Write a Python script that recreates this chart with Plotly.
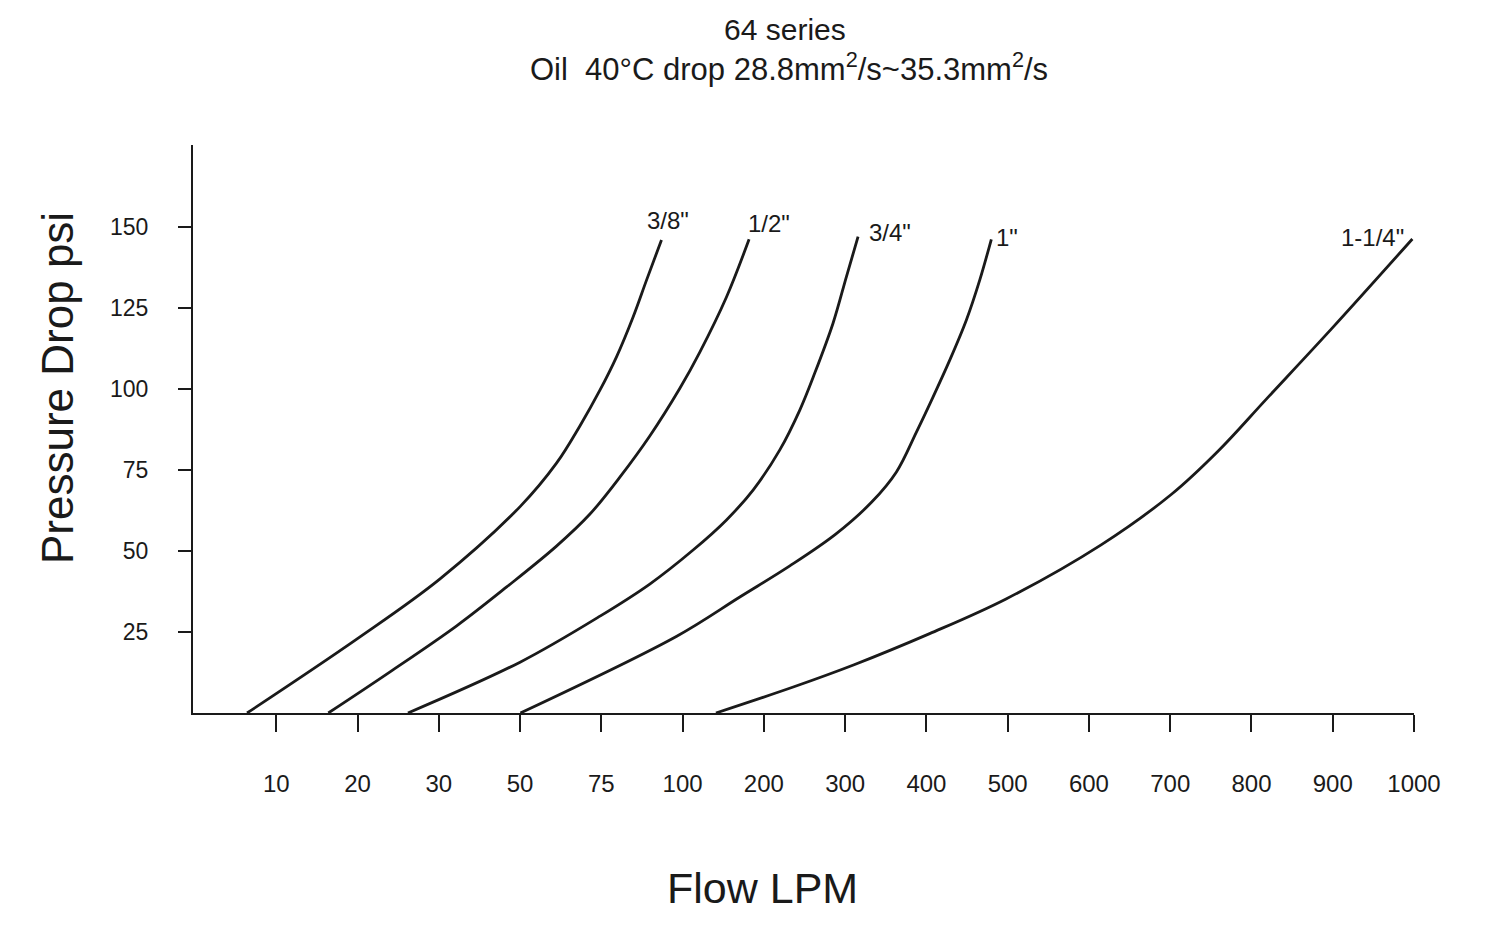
import numpy as np
import plotly.graph_objects as go

# flow axis ticks are evenly spaced on the chart, not linear in LPM
flow_ticks = [10, 20, 30, 50, 75, 100, 200, 300, 400, 500, 600, 700, 800, 900, 1000]
psi_ticks = [25, 50, 75, 100, 125, 150]

sizes = ['3/8"', '1/2"', '3/4"', '1"', '1-1/4"']

# values (flow LPM, pressure drop psi)
flow_38 = [6.4, 19.9, 30.3, 50.0, 61.2, 68.4, 74.6, 79.7, 84.8, 88.9, 93.5]
psi_38 = [0, 22.8, 41.4, 63.7, 77.1, 88.6, 99.7, 110.0, 122.3, 133.6, 146.0]

flow_12 = [16.4, 24.0, 34.4, 46.7, 61.2, 71.5, 80.7, 89.9, 99.2, 121.2, 154, 181.8]
psi_12 = [0, 12.7, 26.9, 38.9, 51.5, 61.4, 72.8, 85.5, 100.3, 111.4, 128.4, 146.2]

flow_34 = [26.2, 50.0, 74.6, 89.9, 112.9, 154, 186.7, 219.6, 244.2, 262.6, 285.1, 301.6, 315.9]
psi_34 = [0, 15.7, 29.9, 39.8, 50.3, 59.6, 68.8, 81.2, 93.5, 104.9, 120.3, 134.7, 147.0]

flow_1 = [50.1, 98.2, 170.4, 231.9, 288.4, 332.7, 363.1, 387.7, 408.1, 428.7, 449.2, 465.6, 479.9]
psi_1 = [0, 23.7, 35.8, 45.4, 55.2, 65.1, 74.4, 86.7, 97.5, 108.9, 121.3, 133.6, 146.2]

flow_114 = [141, 237, 311, 404, 498, 615, 702, 760, 818, 899, 998]
psi_114 = [0, 8.1, 14.9, 24.5, 35.2, 51.9, 67.6, 81.1, 96.8, 118.7, 146.3]

curves = [(flow_38, psi_38), (flow_12, psi_12), (flow_34, psi_34),
          (flow_1, psi_1), (flow_114, psi_114)]

# label offsets from the end of each curve, in px
label_shift = [(7, 19), (20, 16), (32, 4), (16, 2), (-40, 1)]

W, H = 1509, 935
L, R, T, B = 193, 95, 145, 222
FONT = 'Liberation Sans, Arial, sans-serif'
INK = '#1a1a1a'


def to_axis(flow):
    # map LPM onto the evenly spaced tick positions
    return np.interp(flow, [0] + flow_ticks, np.arange(len(flow_ticks) + 1))


def at_px(x, y):
    return dict(x=(x - L) / (W - L - R), y=(H - B - y) / (H - T - B),
                xref='paper', yref='paper')


fig = go.Figure()

for name, (flow, psi), (dx, dy) in zip(sizes, curves, label_shift):
    xs = to_axis(flow)
    fig.add_trace(go.Scatter(x=xs, y=psi, mode='lines', name=name,
                             line=dict(color=INK, width=2.8, shape='spline', smoothing=1.0),
                             hoverinfo='skip'))
    fig.add_annotation(x=xs[-1], y=psi[-1], text=name, showarrow=False,
                       xshift=dx, yshift=dy, xanchor='center', yanchor='middle',
                       font=dict(size=24, color=INK, family=FONT))

fig.add_annotation(text='64 series', showarrow=False, xanchor='center', yanchor='middle',
                   font=dict(size=30, color=INK, family=FONT), **at_px(785, 29))
fig.add_annotation(text='Oil\u00a0 40°C drop 28.8mm<sup>2</sup>/s~35.3mm<sup>2</sup>/s',
                   showarrow=False, xanchor='center', yanchor='middle',
                   font=dict(size=31, color=INK, family=FONT), **at_px(789, 67))
fig.add_annotation(text='Pressure Drop psi', textangle=-90, showarrow=False,
                   xanchor='center', yanchor='middle',
                   font=dict(size=44, color=INK, family=FONT), **at_px(57, 388))
fig.add_annotation(text='Flow LPM', showarrow=False, xanchor='center', yanchor='middle',
                   font=dict(size=43, color=INK, family=FONT), **at_px(762, 888))

fig.update_xaxes(range=[-0.025, 15], tickvals=np.arange(1, len(flow_ticks) + 1),
                 ticktext=[str(v) for v in flow_ticks],
                 showline=True, linecolor=INK, linewidth=2, showgrid=False, zeroline=False,
                 ticks='outside', ticklen=17, tickwidth=2, tickcolor=INK,
                 ticklabelstandoff=31, tickfont=dict(size=24, color=INK, family=FONT))
fig.update_yaxes(range=[0, 175.3], tickvals=psi_ticks,
                 showline=True, linecolor=INK, linewidth=2, showgrid=False, zeroline=False,
                 ticks='outside', ticklen=13, tickwidth=2, tickcolor=INK,
                 ticklabelstandoff=25, tickfont=dict(size=23, color=INK, family=FONT))

fig.update_layout(width=W, height=H, autosize=False, showlegend=False,
                  margin=dict(l=L, r=R, t=T, b=B),
                  paper_bgcolor='white', plot_bgcolor='white')

fig.write_html("out.html", config={'displayModeBar': False},
               post_script="document.body.style.margin='0';")
